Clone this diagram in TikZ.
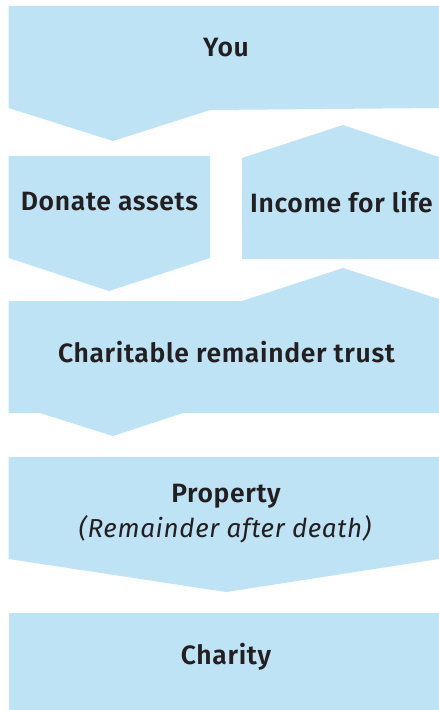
\documentclass[tikz,border=0pt]{standalone}
\usepackage{fontspec}
\setmainfont{Fira Sans}[LetterSpace=2.5, BoldFont={Fira Sans SemiBold}]
\definecolor{paleblue}{RGB}{190,227,245}
\definecolor{inkgrey}{RGB}{35,31,32}

\begin{document}
\begin{tikzpicture}[x=1pt,y=-1pt,
    panel/.style={fill=paleblue},
    lbl/.style={text=inkgrey, font=\fontsize{26.5}{31}\selectfont\bfseries, inner sep=0pt, anchor=center}]
  \useasboundingbox (0,0) rectangle (439,710);
  % shapes
  \fill[panel] (8.7,6) -- (439,6) -- (439,108) -- (210,110) -- (113,141) -- (8.7,108) -- cycle;
  \fill[panel] (8.7,156) -- (210,156) -- (210,258) -- (109,291) -- (8.7,258) -- cycle;
  \fill[panel] (242,158) -- (343,125) -- (439,157) -- (439,259) -- (242,259) -- cycle;
  \fill[panel] (8.7,301) -- (242,301) -- (343,268) -- (439,299) -- (439,413)
    -- (183,413) -- (113,436) -- (40,413) -- (8.7,413) -- cycle;
  \fill[panel] (8.7,457) -- (439,457) -- (439,559) -- (226,592) -- (8.7,559) -- cycle;
  \fill[panel] (8.7,613) -- (439,613) -- (439,710) -- (8.7,710) -- cycle;
  % labels
  \node (you) at (226,48) [lbl] {You};
  \node (donate) at (109.5,202) [lbl] {Donate assets};
  \node (income) at (341.5,202) [lbl] {Income for life};
  \node (trust) at (226.5,352) [lbl] {Charitable remainder trust};
  \node (property) at (226,496) [lbl] {Property};
  \node (remainder) at (225,529) [lbl, font=\fontsize{26}{30}\selectfont\itshape] {(Remainder after death)};
  \node (charity) at (226,657) [lbl] {Charity};
\end{tikzpicture}
\end{document}
